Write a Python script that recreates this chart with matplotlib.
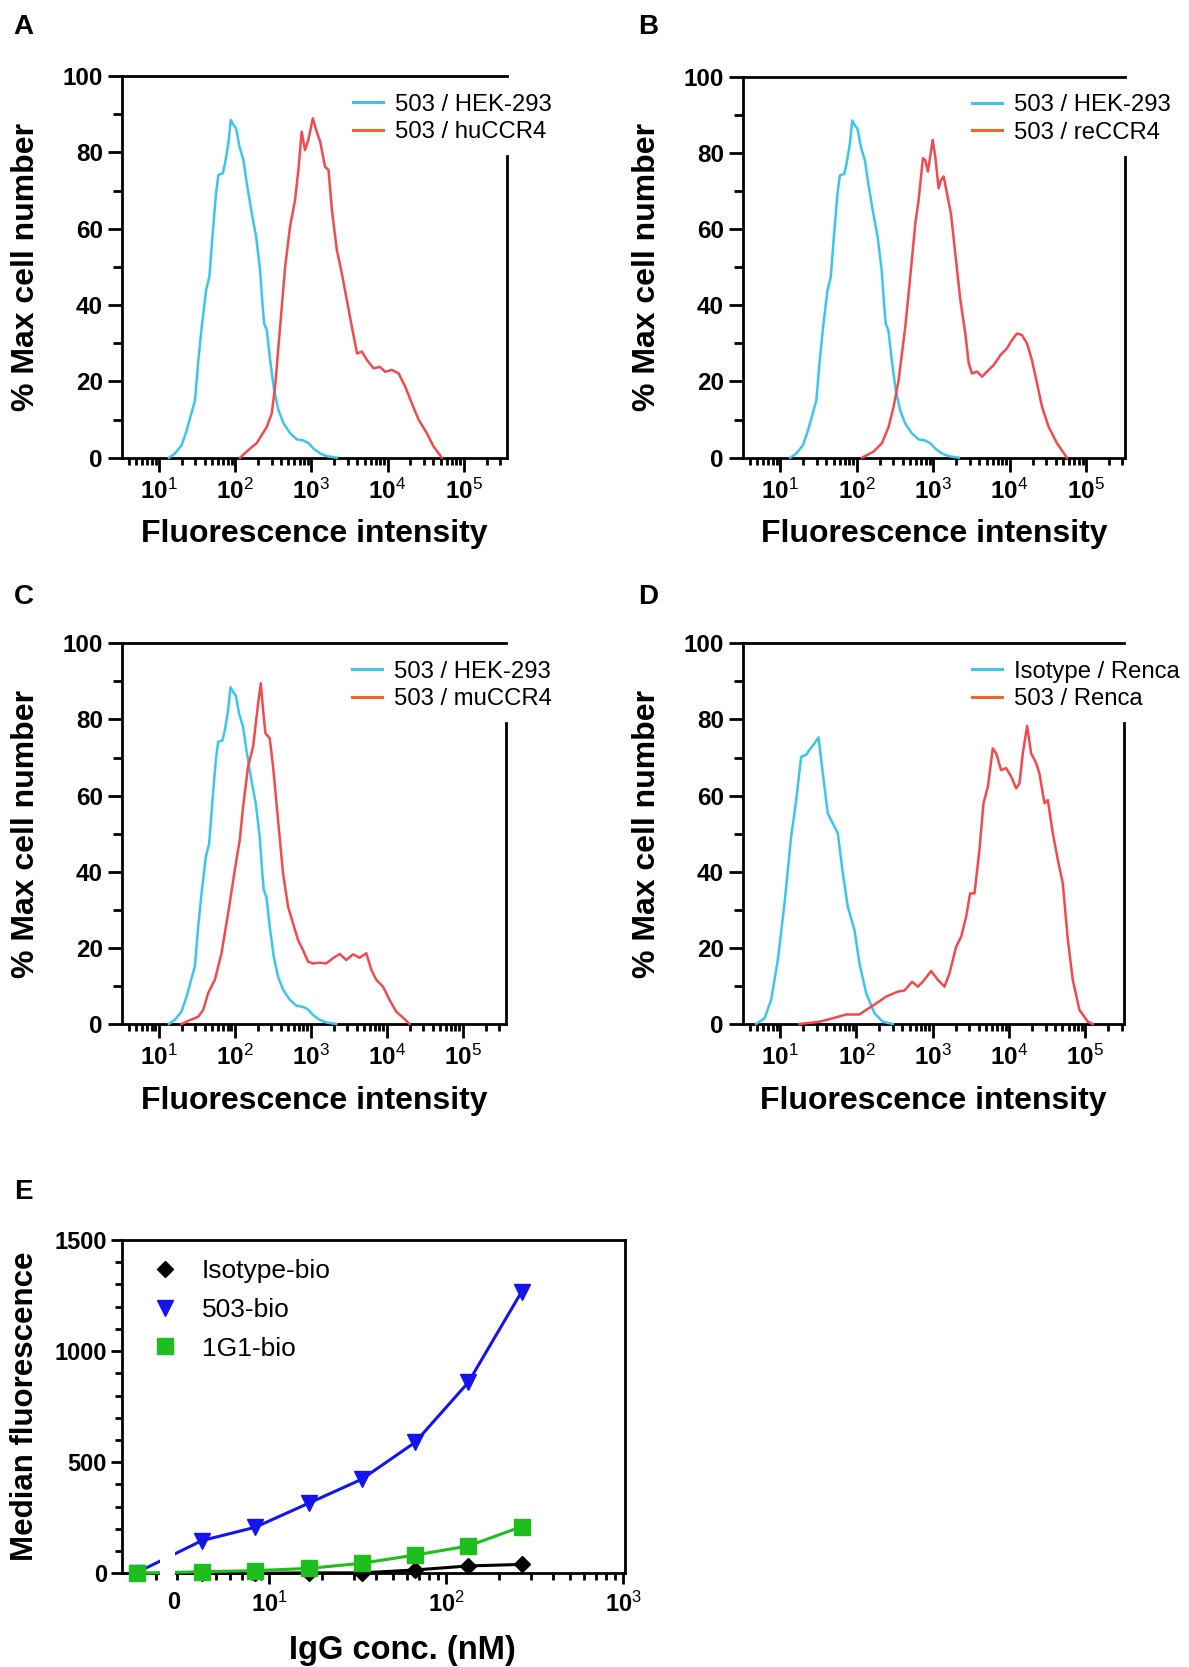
import numpy as np
import matplotlib
matplotlib.use("Agg")
import matplotlib.pyplot as plt
import matplotlib.transforms as mtransforms
from matplotlib.lines import Line2D
from matplotlib.patches import Rectangle
from matplotlib.ticker import FixedLocator, LogLocator, MultipleLocator, NullFormatter

plt.rcParams['font.family'] = ['Liberation Sans', 'DejaVu Sans']
plt.rcParams['mathtext.fontset'] = 'custom'
plt.rcParams['mathtext.rm'] = 'Liberation Sans'
plt.rcParams['mathtext.bf'] = 'Liberation Sans:bold'
plt.rcParams['mathtext.it'] = 'Liberation Sans:italic'

# ---------------- data ----------------
# histogram curves: log10(fluorescence intensity) and % max cell number
hek_log = [1.131, 1.21, 1.298, 1.364, 1.473, 1.517, 1.561, 1.618, 1.661, 1.705, 1.749, 1.78,
           1.837, 1.867, 1.911, 1.942, 1.977, 2.012, 2.056, 2.108, 2.152, 2.218, 2.275, 2.327,
           2.358, 2.38, 2.415, 2.459, 2.511, 2.568, 2.634, 2.722, 2.81, 2.897, 2.962, 3.028,
           3.116, 3.204, 3.335]
hek_pct = [0, 1.1, 3.3, 7.2, 15.1, 25.6, 34.3, 43.9, 47.4, 58.8, 69.3, 74.1,
           74.5, 77.1, 82.4, 88.5, 87.2, 86.3, 81.5, 78.0, 71.9, 64.0, 57.9, 49.2,
           40.4, 35.2, 33.4, 25.6, 17.7, 12.5, 9.0, 6.4, 4.8, 4.5, 3.8, 2.4,
           1.1, 0.4, 0]

hu_log = [2.064, 2.196, 2.283, 2.415, 2.48, 2.524, 2.59, 2.656, 2.72, 2.786, 2.83, 2.873,
          2.917, 2.96, 3.02, 3.07, 3.116, 3.18, 3.225, 3.27, 3.335, 3.4, 3.466, 3.532,
          3.6, 3.663, 3.73, 3.817, 3.9, 3.97, 4.057, 4.145, 4.233, 4.32, 4.41, 4.517,
          4.605, 4.714]
hu_pct = [0, 2.4, 3.8, 8.1, 11.6, 18.6, 34.3, 50.0, 60.5, 67.5, 75.4, 85.4,
          80.6, 83.2, 88.9, 85.4, 82.8, 76.2, 75.4, 64.9, 54.4, 48.3, 41.3, 34.3,
          27.3, 27.8, 25.6, 23.4, 23.8, 22.5, 23.0, 22.1, 18.6, 14.2, 9.9, 6.4,
          2.9, 0]

re_log = [2.069, 2.221, 2.33, 2.418, 2.483, 2.549, 2.636, 2.701, 2.767, 2.81, 2.867, 2.897,
          2.932, 2.994, 3.028, 3.072, 3.103, 3.138, 3.181, 3.233, 3.29, 3.356, 3.421, 3.465,
          3.508, 3.574, 3.64, 3.705, 3.792, 3.879, 3.966, 4.032, 4.097, 4.162, 4.228, 4.293,
          4.359, 4.424, 4.511, 4.62, 4.751]
re_pct = [0, 1.6, 3.8, 8.1, 13.4, 20.4, 34.4, 47.5, 61.5, 67.6, 78.6, 78.1,
          75.1, 83.4, 79.0, 70.7, 72.9, 73.8, 69.4, 64.1, 53.6, 41.4, 32.6, 24.8,
          22.1, 22.6, 21.3, 22.6, 24.3, 26.9, 28.7, 30.9, 32.6, 32.2, 30.0, 25.6,
          19.5, 13.4, 8.1, 3.8, 0]

mu_log = [1.298, 1.407, 1.517, 1.583, 1.648, 1.736, 1.824, 1.911, 2.02, 2.064, 2.108, 2.174,
          2.24, 2.306, 2.341, 2.371, 2.402, 2.459, 2.503, 2.568, 2.634, 2.7, 2.766, 2.831,
          2.897, 2.963, 3.028, 3.116, 3.204, 3.292, 3.38, 3.467, 3.555, 3.642, 3.73, 3.796,
          3.862, 3.95, 4.037, 4.125, 4.212, 4.3]
mu_pct = [0, 1.0, 1.9, 3.7, 8.1, 11.6, 18.6, 29.1, 43.1, 48.3, 57.1, 67.6,
          72.9, 84.2, 89.5, 82.5, 76.4, 75.0, 67.6, 53.6, 39.6, 30.8, 26.4, 22.1,
          19.4, 16.4, 15.9, 16.1, 15.9, 17.3, 18.4, 16.8, 18.3, 17.4, 18.6, 14.2,
          11.6, 9.8, 6.3, 3.2, 1.7, 0]

iso_renca_log = [0.686, 0.795, 0.882, 0.969, 1.057, 1.144, 1.21, 1.275, 1.341, 1.384, 1.45, 1.502,
                 1.559, 1.624, 1.69, 1.755, 1.821, 1.886, 1.974, 2.039, 2.127, 2.236, 2.345, 2.476]
iso_renca_pct = [0, 1.5, 6.3, 16.8, 31.7, 49.2, 58.8, 70.2, 70.7, 72.0, 73.7, 75.3,
                 65.8, 55.3, 52.7, 50.1, 39.6, 30.8, 24.7, 15.9, 8.1, 2.8, 0.6, 0]

renca_log = [1.253, 1.515, 1.69, 1.865, 2.039, 2.127, 2.258, 2.389, 2.541, 2.629, 2.729, 2.803,
             2.869, 2.978, 3.066, 3.153, 3.218, 3.306, 3.371, 3.437, 3.489, 3.546, 3.611, 3.664,
             3.721, 3.786, 3.83, 3.895, 3.961, 4.026, 4.092, 4.135, 4.179, 4.236, 4.288, 4.354,
             4.397, 4.463, 4.507, 4.572, 4.638, 4.703, 4.769, 4.834, 4.921, 5.031, 5.096]
renca_pct = [0, 0.6, 1.5, 2.5, 2.5, 3.7, 5.4, 7.2, 8.5, 8.8, 11.1, 9.8,
             11.1, 13.9, 11.6, 9.8, 13.3, 20.3, 22.9, 28.2, 34.3, 34.3, 45.7, 58.0,
             62.3, 72.4, 71.1, 66.7, 67.2, 65.0, 61.9, 63.2, 71.1, 78.3, 71.1, 68.5,
             65.8, 58.0, 58.8, 50.1, 43.1, 37.0, 22.1, 11.6, 3.7, 0.6, 0]

legend_A = ["503 / HEK-293", "503 / huCCR4"]
legend_B = ["503 / HEK-293", "503 / reCCR4"]
legend_C = ["503 / HEK-293", "503 / muCCR4"]
legend_D = ["Isotype / Renca", "503 / Renca"]

hist_xticks = [1e1, 1e2, 1e3, 1e4, 1e5]
hist_xticklabels = [r"$\mathbf{10}^{1}$", r"$\mathbf{10}^{2}$", r"$\mathbf{10}^{3}$",
                    r"$\mathbf{10}^{4}$", r"$\mathbf{10}^{5}$"]
hist_yticks = [0, 20, 40, 60, 80, 100]

# panel E
igg_conc = [0, 4.17, 8.33, 16.7, 33.3, 66.7, 133.3, 266.7]
mfi_isotype = [0, 0, 0, 2, 2, 15, 33, 40]
mfi_503 = [3, 147, 207, 315, 423, 589, 859, 1267]
mfi_1g1 = [0, 7, 12, 22, 45, 82, 123, 210]
e_series = ["Isotype-bio", "503-bio", "1G1-bio"]
e_xticks = [10, 100, 1000]
e_xticklabels = ["0", r"$\mathbf{10}^{1}$", r"$\mathbf{10}^{2}$", r"$\mathbf{10}^{3}$"]
e_yticks = [0, 500, 1000, 1500]

# ---------------- style ----------------
CYAN = "#3DC5EE"
RED = "#F34A4E"
ORANGE = "#F0652C"
BLUE = "#1414EE"
GREEN = "#1DBE1D"

W, H = 1189, 1667
fig = plt.figure(figsize=(W / 100, H / 100), dpi=100)


def px_axes(l, t, r, b):
    return fig.add_axes([l / W, 1 - b / H, (r - l) / W, (b - t) / H])


def hist_panel(ax, xc, yc, xr, yr, labels, xlim_log, width_px):
    ax.plot(10 ** np.asarray(xc), yc, color=CYAN, lw=1.8, clip_on=False, zorder=3)
    ax.plot(10 ** np.asarray(xr), yr, color=RED, lw=1.8, clip_on=False, zorder=3)
    ax.set_xscale('log')
    ax.set_xlim(10 ** xlim_log[0], 10 ** xlim_log[1])
    ax.set_ylim(0, 100)
    for s in ax.spines.values():
        s.set_linewidth(2.0)
    ax.spines['right'].set_bounds(0, 79)
    ax.set_xticks(hist_xticks, labels=hist_xticklabels)
    ax.xaxis.set_minor_locator(LogLocator(base=10, subs=np.arange(2, 10) * 1.0, numticks=30))
    ax.xaxis.set_minor_formatter(NullFormatter())
    ax.set_yticks(hist_yticks, labels=[str(v) for v in hist_yticks], fontweight='bold')
    ax.yaxis.set_minor_locator(MultipleLocator(10))
    ax.tick_params(which='major', direction='out', length=10, width=2, labelsize=17.5)
    ax.tick_params(axis='y', which='major', pad=4)
    ax.tick_params(axis='x', which='major', pad=5)
    ax.tick_params(axis='x', which='minor', direction='out', length=5, width=2)
    ax.tick_params(axis='y', which='minor', direction='out', length=6.5, width=2)
    ax.set_xlabel("Fluorescence intensity", fontsize=23, fontweight='bold')
    ax.xaxis.label.set_va('baseline')
    ax.xaxis.set_label_coords(0.5, -0.222)
    ax.set_ylabel("% Max cell number", fontsize=23, fontweight='bold')
    ax.yaxis.label.set_va('center')
    ax.yaxis.set_label_coords(-96 / width_px, 0.5)
    handles = [Line2D([], [], color=CYAN, lw=2.2), Line2D([], [], color=ORANGE, lw=2.2)]
    ax.legend(handles, labels, loc='center left', bbox_to_anchor=(0.6, 0.889), frameon=False,
              fontsize=17.2, handlelength=1.25, handletextpad=0.5, labelspacing=0.24,
              borderaxespad=0, borderpad=0)


axA = px_axes(122.3, 76, 506.7, 457.7)
hist_panel(axA, hek_log, hek_pct, hu_log, hu_pct, legend_A, (0.518, 5.565), 384.4)
axB = px_axes(743.3, 76.7, 1125, 457.7)
hist_panel(axB, hek_log, hek_pct, re_log, re_pct, legend_B, (0.517, 5.51), 381.7)
axC = px_axes(122.3, 643.3, 505.7, 1024)
hist_panel(axC, hek_log, hek_pct, mu_log, mu_pct, legend_C, (0.518, 5.565), 383.4)
axD = px_axes(743.3, 643.3, 1124, 1024)
hist_panel(axD, iso_renca_log, iso_renca_pct, renca_log, renca_pct, legend_D, (0.517, 5.505), 380.7)

# ---------------- panel E ----------------
ZERO_POS = 0.252          # axis position (log units) at which the zero concentration is drawn
LEFT_SEG_END = 0.3835     # end of the zero segment (log units)
RIGHT_SEG_START = 0.47    # start of the log segment (log units)
ZERO_LABEL_POS = 0.4625


def fwd(x):
    x = np.asarray(x, dtype=float)
    safe = np.where(x > 0, x, 1.0)
    return np.where(x > 0, np.log10(safe), ZERO_POS)


def inv(y):
    return np.power(10.0, np.asarray(y, dtype=float))


axE = px_axes(122.3, 1240, 625, 1573.3)
axE.set_xscale('function', functions=(fwd, inv))
axE.set_xlim(10 ** 0.171, 10 ** 3.01)
axE.set_ylim(0, 1500)

axE.plot(igg_conc, mfi_isotype, color='black', lw=2.2, marker='D', ms=8.5, clip_on=False, zorder=3)
axE.plot(igg_conc, mfi_503, color=BLUE, lw=2.2, marker='v', ms=12, clip_on=False, zorder=3)
axE.plot(igg_conc, mfi_1g1, color=GREEN, lw=2.2, marker='s', ms=11.5, clip_on=False, zorder=3)

# axis break between the zero segment and the log segment
trans = mtransforms.blended_transform_factory(axE.transData, axE.transAxes)
gap = Rectangle((10 ** LEFT_SEG_END, -0.011), 10 ** RIGHT_SEG_START - 10 ** LEFT_SEG_END, 0.96,
                transform=trans, facecolor='white', edgecolor='none', zorder=3.5, clip_on=False)
axE.add_patch(gap)

for s in axE.spines.values():
    s.set_linewidth(2.0)

major_e = [10 ** ZERO_LABEL_POS] + e_xticks
axE.set_xticks(major_e, labels=e_xticklabels, fontweight='bold')
minor_e = [0, 10 ** 0.361] + list(np.arange(3, 10)) + list(np.arange(20, 100, 10)) + list(np.arange(200, 1000, 100))
axE.xaxis.set_minor_locator(FixedLocator(minor_e))
axE.xaxis.set_minor_formatter(NullFormatter())
axE.set_yticks(e_yticks, labels=[str(v) for v in e_yticks], fontweight='bold')
axE.yaxis.set_minor_locator(MultipleLocator(100))
axE.tick_params(which='major', direction='out', length=8, width=2, labelsize=17)
axE.tick_params(axis='x', which='major', pad=5)
axE.tick_params(axis='y', which='major', pad=3)
axE.tick_params(which='minor', direction='out', length=5, width=2)
axE.xaxis.get_major_ticks()[0].tick1line.set_visible(False)

axE.set_xlabel("IgG conc. (nM)", fontsize=23.5, fontweight='bold')
axE.xaxis.label.set_va('baseline')
axE.xaxis.set_label_coords(0.558, -0.257)
axE.set_ylabel("Median fluorescence", fontsize=22.5, fontweight='bold')
axE.yaxis.label.set_va('center')
axE.yaxis.set_label_coords(-0.194, 0.5)

e_handles = [Line2D([], [], ls='none', marker='D', color='black', ms=8.5),
             Line2D([], [], ls='none', marker='v', color=BLUE, ms=12),
             Line2D([], [], ls='none', marker='s', color=GREEN, ms=11.5)]
axE.legend(e_handles, e_series, loc='center left', bbox_to_anchor=(0.0535, 0.79), frameon=False,
           fontsize=19, handlelength=1.2, handletextpad=0.8, labelspacing=0.55,
           borderaxespad=0, borderpad=0, numpoints=1)

# panel letters
for letter, x, yb in [("A", 13, 34), ("B", 638, 34), ("C", 14, 604), ("D", 638, 604), ("E", 14, 1199)]:
    fig.text(x / W, 1 - yb / H, letter, fontsize=20, fontweight='bold', va='baseline', ha='left')

fig.savefig("out.png", dpi=100)
